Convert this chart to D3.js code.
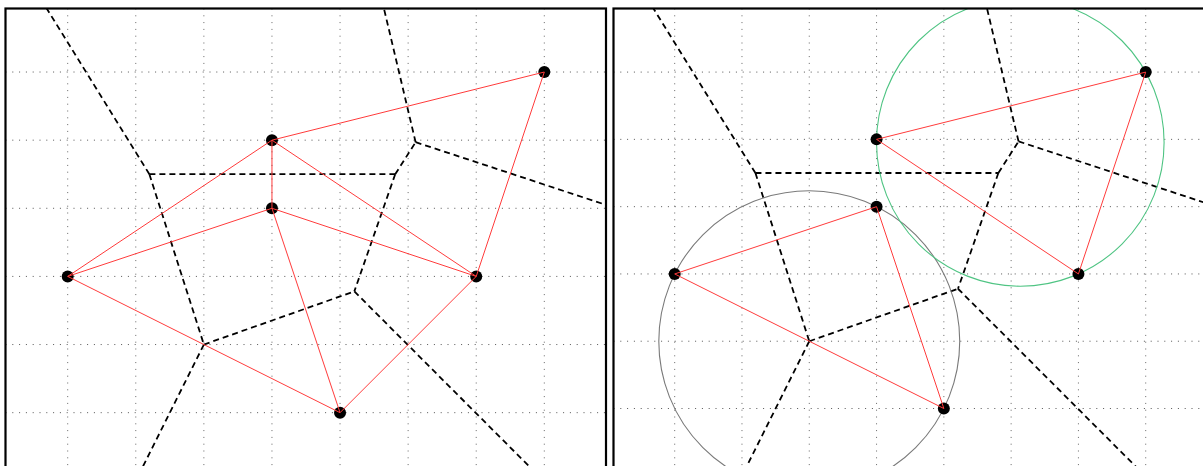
<!DOCTYPE html>
<html>
<head>
<meta charset="utf-8">
<script src="https://cdn.jsdelivr.net/npm/d3@7"></script>
<style>
html,body{margin:0;padding:0;background:#fff;}
svg{display:block;}
</style>
</head>
<body>
<svg id="chart" width="1203" height="466"></svg>
<script>
// ---- data ----
const pointX = [1, 4, 4, 8, 7, 5];
const pointY = [3, 5, 4, 6, 3, 1];
const gridX = [1, 2, 3, 4, 5, 6, 7, 8];
const gridY = [1, 2, 3, 4, 5, 6];
// Voronoi edges (data coordinates; rays run past the frame)
const voronoiX1 = [2.20, 2.20, 2.20, 5.81, 5.81, 6.11, 6.11, 3.00, 3.00, 5.21];
const voronoiY1 = [4.50, 4.50, 4.50, 4.50, 4.50, 4.97, 4.97, 2.00, 2.00, 2.78];
const voronoiX2 = [0.34, 5.81, 3.00, 6.11, 5.21, 5.51, 10.0, 5.21, 1.50, 8.99];
const voronoiY2 = [7.50, 4.50, 2.00, 4.97, 2.78, 7.50, 3.69, 2.78, -1.0, -1.0];
// triangles highlighted in the right panel (indices into the points)
const highlightTriangles = [[0, 2, 5], [1, 3, 4]];
const circleColors = ["#7a7a7a", "#4fc483"];

const svg = d3.select("#chart");
svg.append("rect").attr("width", 1203).attr("height", 466).attr("fill", "#fff");

const panels = [
  { frame: [5.5, 8.5, 600.5, 620], x: d3.scaleLinear().domain([0, 9]).range([-0.4, 612.4]),
    y: d3.scaleLinear().domain([0, 7]).range([480.8, 3.9]), full: true },
  { frame: [613.5, 8.5, 700, 620], x: d3.scaleLinear().domain([0, 9]).range([607.4, 1213.0]),
    y: d3.scaleLinear().domain([0, 7]).range([475.8, 4.8]), full: false }
];

const pts = pointX.map((d, i) => [d, pointY[i]]);
const vEdges = voronoiX1.map((d, i) => [[d, voronoiY1[i]], [voronoiX2[i], voronoiY2[i]]]);

function circumcircle(a, b, c) {
  const d = 2 * (a[0] * (b[1] - c[1]) + b[0] * (c[1] - a[1]) + c[0] * (a[1] - b[1]));
  const a2 = a[0] * a[0] + a[1] * a[1], b2 = b[0] * b[0] + b[1] * b[1], c2 = c[0] * c[0] + c[1] * c[1];
  const ux = (a2 * (b[1] - c[1]) + b2 * (c[1] - a[1]) + c2 * (a[1] - b[1])) / d;
  const uy = (a2 * (c[0] - b[0]) + b2 * (a[0] - c[0]) + c2 * (b[0] - a[0])) / d;
  return { cx: ux, cy: uy, r: Math.hypot(a[0] - ux, a[1] - uy) };
}

panels.forEach((p, pi) => {
  const [fx, fy, fw, fh] = p.frame;
  const g = svg.append("g");
  const clipId = "clip" + pi;
  svg.append("defs").append("clipPath").attr("id", clipId)
    .append("rect").attr("x", fx).attr("y", fy).attr("width", fw).attr("height", fh);
  const inner = g.append("g").attr("clip-path", `url(#${clipId})`);

  // grid
  inner.selectAll(".gx").data(gridX).join("line")
    .attr("x1", d => p.x(d)).attr("x2", d => p.x(d))
    .attr("y1", fy).attr("y2", fy + fh)
    .attr("stroke", "#666").attr("stroke-width", 1).attr("stroke-dasharray", "1,5.8");
  inner.selectAll(".gy").data(gridY).join("line")
    .attr("y1", d => p.y(d)).attr("y2", d => p.y(d))
    .attr("x1", fx).attr("x2", fx + fw)
    .attr("stroke", "#555").attr("stroke-width", 1).attr("stroke-dasharray", "1,5.8");

  // voronoi edges
  const line = d3.line().x(d => p.x(d[0])).y(d => p.y(d[1]));
  inner.selectAll(".ve").data(vEdges).join("path")
    .attr("d", line)
    .attr("fill", "none").attr("stroke", "#000").attr("stroke-width", 1.8)
    .attr("stroke-dasharray", "6,4");

  // circumcircles (right panel)
  if (!p.full) {
    highlightTriangles.forEach((t, ti) => {
      const c = circumcircle(pts[t[0]], pts[t[1]], pts[t[2]]);
      inner.append("circle")
        .attr("cx", p.x(c.cx)).attr("cy", p.y(c.cy))
        .attr("r", p.x(c.cx + c.r) - p.x(c.cx))
        .attr("fill", "none").attr("stroke", circleColors[ti]).attr("stroke-width", 1.1);
    });
  }

  // points
  const pix = pts.map(d => [p.x(d[0]), p.y(d[1])]);
  inner.selectAll(".pt").data(pts).join("circle")
    .attr("cx", d => p.x(d[0])).attr("cy", d => p.y(d[1])).attr("r", 6)
    .attr("fill", "#000");

  // delaunay edges
  let edgePath;
  if (p.full) {
    edgePath = d3.Delaunay.from(pix).render();
  } else {
    const path = d3.path();
    highlightTriangles.forEach(t => {
      path.moveTo(pix[t[0]][0], pix[t[0]][1]);
      path.lineTo(pix[t[1]][0], pix[t[1]][1]);
      path.lineTo(pix[t[2]][0], pix[t[2]][1]);
      path.closePath();
    });
    edgePath = path.toString();
  }
  inner.append("path").attr("d", edgePath)
    .attr("fill", "none").attr("stroke", "#ff3b3b").attr("stroke-width", 1);

  // frame
  g.append("rect").attr("x", fx).attr("y", fy).attr("width", fw).attr("height", fh)
    .attr("fill", "none").attr("stroke", "#000").attr("stroke-width", 2.2);
});
</script>
</body>
</html>
